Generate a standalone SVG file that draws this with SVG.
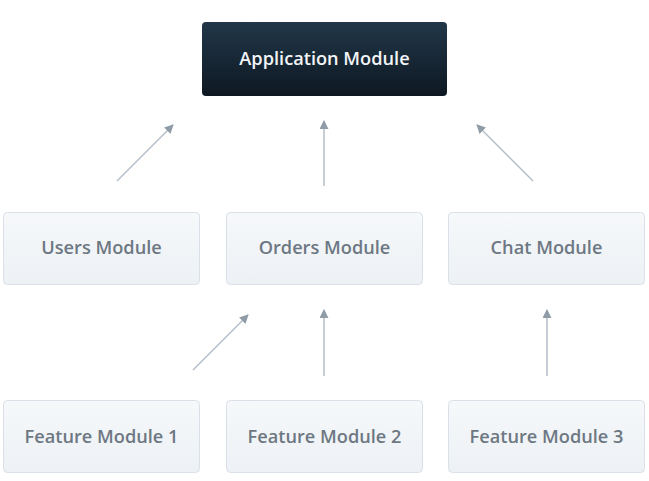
<svg xmlns="http://www.w3.org/2000/svg" width="649" height="481" viewBox="0 0 649 481">
<defs>
<linearGradient id="gLight" x1="0" y1="0" x2="0" y2="1">
<stop offset="0" stop-color="#f6f8fa"/>
<stop offset="1" stop-color="#edf1f5"/>
</linearGradient>
<linearGradient id="gDark" x1="0" y1="0" x2="0" y2="1">
<stop offset="0" stop-color="#213749"/>
<stop offset="1" stop-color="#0e1822"/>
</linearGradient>
<marker id="ah" viewBox="0 0 10 10" refX="9" refY="5" markerWidth="9" markerHeight="9" markerUnits="userSpaceOnUse" orient="auto">
<path d="M0,0 L10,5 L0,10 Z" fill="#8f9ba6"/>
</marker>
</defs>
<style>
.box{fill:url(#gLight);stroke:#d9e0e7;stroke-width:1}
.dark{fill:url(#gDark)}
.lbl{font-family:"Open Sans","Liberation Sans",sans-serif;font-weight:600;font-size:18.2px;fill:#6d7883;text-anchor:middle;dominant-baseline:central}
.dlbl{font-family:"Open Sans","Liberation Sans",sans-serif;font-weight:600;font-size:18.2px;fill:#f2f4f6;text-anchor:middle;dominant-baseline:central}
.conn{stroke:#b3bdc7;stroke-width:1.5;fill:none;marker-end:url(#ah)}
</style>
<rect width="649" height="481" fill="#ffffff"/>
<g id="connectors">
<line class="conn" x1="117" y1="181" x2="173" y2="125"/>
<line class="conn" x1="324" y1="186" x2="324" y2="121"/>
<line class="conn" x1="533" y1="181" x2="477" y2="125"/>
<line class="conn" x1="193" y1="370" x2="248" y2="315"/>
<line class="conn" x1="324" y1="376" x2="324" y2="310"/>
<line class="conn" x1="547" y1="376" x2="547" y2="310"/>
</g>
<g id="app">
<rect class="dark" x="202" y="22" width="245" height="74" rx="4"/>
<text class="dlbl" x="324.5" y="57.5">Application Module</text>
</g>
<g id="users">
<rect class="box" x="3.5" y="212.5" width="196" height="72" rx="4"/>
<text class="lbl" x="101.5" y="246.5">Users Module</text>
</g>
<g id="orders">
<rect class="box" x="226.5" y="212.5" width="196" height="72" rx="4"/>
<text class="lbl" x="324.5" y="246.5">Orders Module</text>
</g>
<g id="chat">
<rect class="box" x="448.5" y="212.5" width="196" height="72" rx="4"/>
<text class="lbl" x="546.5" y="246.5">Chat Module</text>
</g>
<g id="feature1">
<rect class="box" x="3.5" y="400.5" width="196" height="72" rx="4"/>
<text class="lbl" x="101.5" y="435.5">Feature Module 1</text>
</g>
<g id="feature2">
<rect class="box" x="226.5" y="400.5" width="196" height="72" rx="4"/>
<text class="lbl" x="324.5" y="435.5">Feature Module 2</text>
</g>
<g id="feature3">
<rect class="box" x="448.5" y="400.5" width="196" height="72" rx="4"/>
<text class="lbl" x="546.5" y="435.5">Feature Module 3</text>
</g>
</svg>
